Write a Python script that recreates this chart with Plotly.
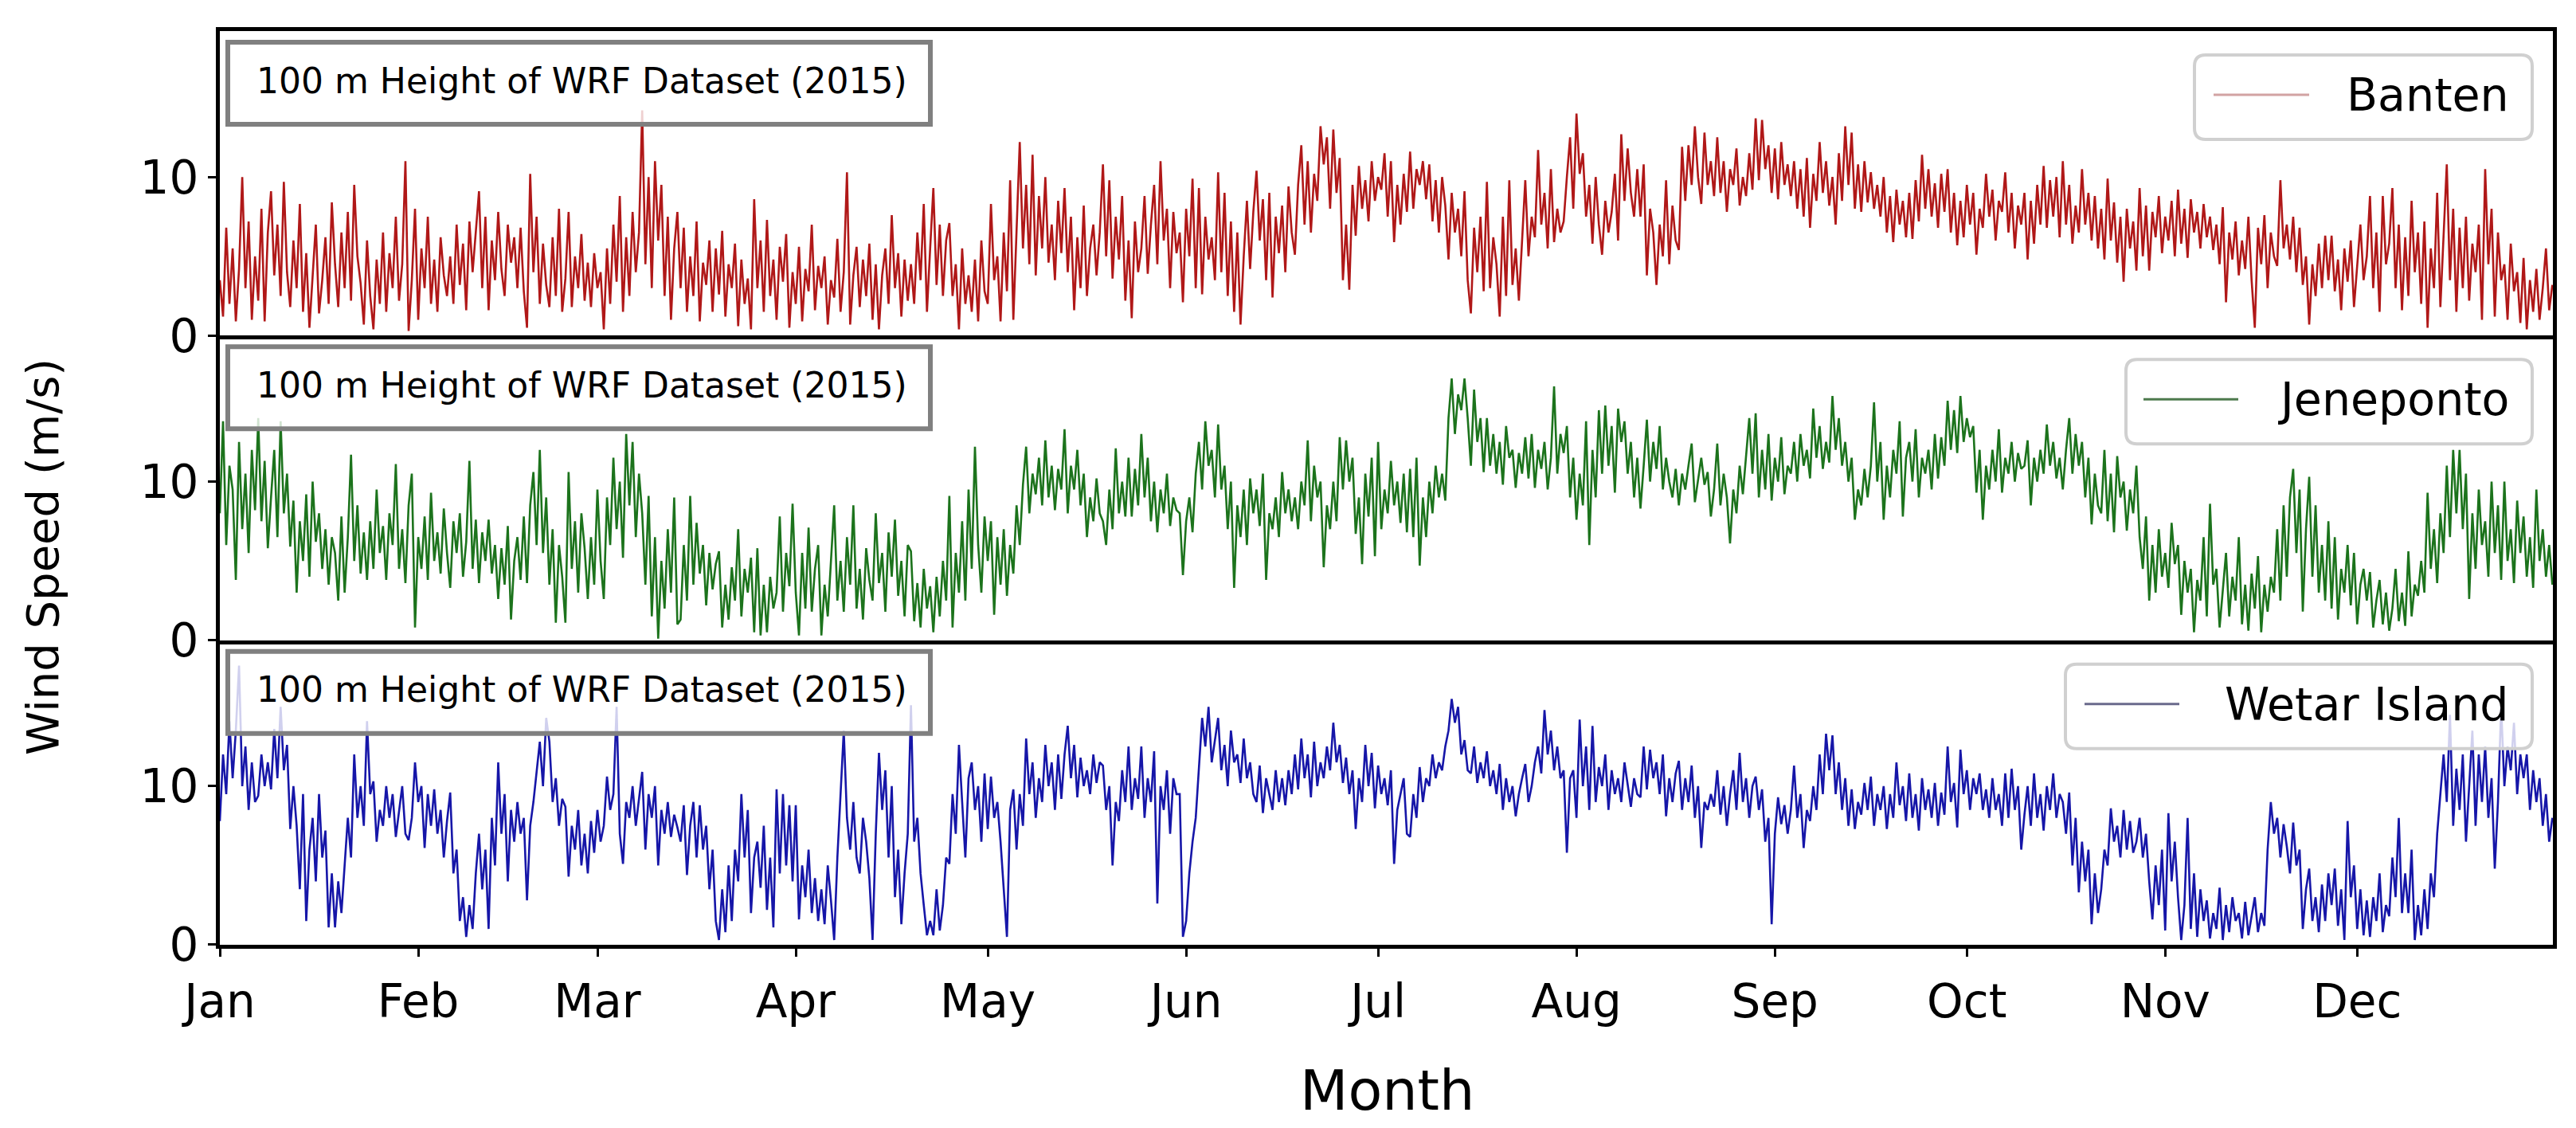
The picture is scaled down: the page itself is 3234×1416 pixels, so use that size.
import pandas as pd
import plotly.graph_objects as go
from plotly.subplots import make_subplots

# ---------------- data (12-hourly samples, m/s) ----------------
banten = [
    3.5, 1.2, 6.8, 2.0, 5.5, 0.9, 4.2, 10.0, 3.0, 7.2, 1.0, 5.0,
    2.2, 8.0, 0.9, 6.5, 9.1, 3.8, 7.0, 2.5, 9.7, 4.0, 1.8, 6.0,
    3.0, 8.3, 1.5, 5.2, 0.5, 4.0, 7.0, 1.4, 3.5, 6.2, 2.0, 8.4,
    4.5, 1.8, 6.5, 3.0, 7.8, 2.2, 9.5, 5.0, 3.3, 0.7, 6.0, 2.5,
    0.4, 4.8, 2.0, 6.5, 1.5, 5.2, 3.0, 7.5, 2.2, 4.5, 11.0, 0.3,
    3.5, 8.0, 1.0, 5.5, 3.0, 7.5, 2.0, 4.8, 1.5, 6.2, 3.8, 2.5,
    5.0, 2.0, 7.0, 3.2, 5.8, 1.6, 7.2, 4.0, 6.5, 9.1, 3.0, 7.5,
    1.6, 6.0, 3.5, 7.8, 4.2, 2.5, 7.0, 4.6, 6.2, 3.0, 6.8, 2.8,
    0.5, 10.2, 4.0, 7.5, 2.0, 5.8, 3.2, 1.8, 6.2, 2.5, 8.0, 1.5,
    3.6, 7.8, 1.8, 5.0, 3.0, 6.4, 2.2, 4.6, 1.8, 5.2, 3.0, 4.0,
    0.4, 5.5, 2.0, 7.0, 3.4, 8.8, 1.5, 6.2, 2.5, 7.8, 4.0, 6.5,
    14.2, 4.5, 10.0, 3.0, 11.0, 6.0, 9.5, 2.5, 7.5, 1.0, 5.5, 7.8,
    3.0, 6.8, 1.5, 5.0, 2.5, 7.2, 0.9, 4.6, 3.2, 6.0, 1.5, 5.5,
    2.6, 6.6, 1.2, 4.5, 3.0, 5.8, 0.6, 4.8, 2.0, 3.6, 0.4, 8.6,
    3.0, 6.0, 1.5, 7.3, 2.5, 4.8, 1.0, 5.6, 3.4, 6.4, 0.5, 4.0,
    2.0, 5.6, 0.9, 4.2, 2.8, 7.0, 1.6, 4.4, 3.0, 5.0, 0.7, 3.5,
    2.4, 6.1, 1.5, 4.0, 10.3, 0.7, 3.8, 5.6, 1.8, 4.8, 2.5, 5.8,
    1.0, 4.5, 0.4, 3.8, 5.5, 2.0, 7.6, 3.0, 5.2, 1.2, 4.8, 2.2,
    4.5, 2.0, 6.5, 3.5, 8.3, 1.5, 5.5, 9.3, 3.2, 7.0, 2.5, 6.0,
    7.1, 2.5, 4.5, 0.4, 5.5, 2.0, 3.8, 1.5, 4.8, 0.9, 6.0, 2.8,
    2.0, 8.3, 3.5, 5.0, 0.9, 6.5, 2.8, 9.8, 1.0, 7.0, 12.2, 5.5,
    9.5, 4.5, 11.4, 3.8, 8.8, 5.5, 10.0, 4.6, 7.0, 3.5, 8.5, 5.2,
    9.3, 4.0, 7.5, 1.6, 6.2, 3.0, 8.2, 2.5, 5.5, 7.0, 3.8, 6.5,
    10.8, 5.0, 9.8, 3.6, 7.5, 4.8, 8.8, 2.2, 6.0, 1.1, 7.2, 4.0,
    5.5, 8.8, 3.9, 7.0, 9.5, 4.5, 11.0, 6.0, 8.0, 3.0, 7.8, 5.2,
    6.5, 2.1, 8.0, 5.0, 9.9, 3.0, 9.3, 2.6, 7.5, 4.8, 6.2, 3.5,
    10.3, 4.0, 9.0, 2.5, 7.2, 1.5, 6.5, 0.7, 5.0, 8.5, 4.2, 7.8,
    10.4, 6.0, 8.6, 3.5, 9.0, 2.4, 7.5, 5.2, 8.2, 4.0, 9.4, 6.5,
    5.1, 9.5, 12.0, 7.0, 11.0, 6.5, 10.2, 8.5, 13.2, 10.8, 12.5, 8.0,
    13.0, 9.0, 11.2, 3.5, 7.0, 2.9, 9.5, 6.3, 10.7, 8.0, 9.8, 7.2,
    11.0, 8.5, 10.0, 9.2, 11.5, 7.5, 11.0, 5.9, 9.5, 7.0, 10.2, 7.8,
    11.6, 8.0, 10.5, 9.5, 11.0, 8.6, 10.8, 7.2, 9.8, 6.5, 10.0, 8.2,
    4.8, 9.0, 6.5, 8.0, 5.0, 9.1, 3.5, 1.4, 6.8, 4.0, 7.5, 2.8,
    9.7, 3.0, 6.2, 4.5, 1.2, 7.5, 2.5, 9.8, 3.2, 5.5, 2.2, 6.0,
    9.8, 5.0, 7.5, 6.2, 11.7, 7.0, 9.0, 5.5, 10.5, 5.9, 8.0, 6.5,
    7.2, 10.0, 12.5, 8.0, 14.0, 10.2, 11.5, 7.5, 9.5, 5.8, 10.0, 7.0,
    5.1, 8.5, 6.5, 7.8, 10.2, 6.0, 12.7, 8.5, 11.8, 9.0, 7.5, 10.5,
    7.5, 10.8, 3.8, 8.0, 6.5, 3.2, 7.0, 5.0, 9.8, 4.5, 8.2, 6.0,
    5.4, 11.9, 8.5, 12.0, 9.5, 13.2, 10.0, 8.3, 12.8, 9.5, 11.0, 8.8,
    12.5, 9.0, 11.0, 7.8, 10.5, 9.5, 11.8, 8.2, 10.0, 8.8, 11.5, 9.2,
    13.7, 9.8, 13.6, 10.5, 12.0, 9.0, 11.8, 8.6, 12.2, 9.5, 10.8, 8.8,
    11.0, 8.0, 10.5, 7.5, 11.2, 6.8, 10.2, 8.5, 12.2, 9.0, 11.0, 8.2,
    10.0, 7.0, 11.5, 8.5, 13.2, 9.5, 12.8, 8.0, 10.8, 7.8, 11.0, 8.4,
    10.3, 8.0, 9.5, 7.5, 10.0, 6.5, 8.8, 5.9, 9.2, 7.0, 8.5, 6.2,
    9.0, 6.1, 9.8, 7.2, 11.4, 8.0, 10.5, 7.5, 9.6, 6.8, 10.2, 7.8,
    10.5, 6.5, 9.0, 5.7, 8.5, 6.2, 9.5, 7.0, 9.0, 5.1, 8.0, 6.8,
    10.2, 7.5, 9.2, 6.0, 8.5, 7.8, 10.3, 6.5, 9.0, 5.5, 8.2, 7.0,
    9.0, 4.8, 8.5, 5.8, 9.5, 7.0, 10.7, 6.8, 9.8, 7.5, 10.0, 6.2,
    11.0, 7.0, 9.5, 5.8, 8.2, 6.5, 10.5, 7.0, 9.0, 6.0, 8.8, 5.5,
    8.0, 4.8, 9.9, 6.0, 8.4, 4.6, 7.5, 3.4, 8.0, 5.5, 7.2, 4.1,
    9.3, 5.0, 8.2, 4.1, 7.8, 6.2, 8.8, 5.2, 7.5, 6.0, 8.5, 5.0,
    9.2, 5.8, 8.0, 4.9, 8.6, 6.5, 7.8, 5.5, 8.3, 6.2, 7.5, 5.4,
    7.0, 4.5, 8.1, 2.1, 6.5, 4.8, 7.2, 3.8, 6.0, 4.2, 7.5, 3.5,
    0.5, 6.8, 4.5, 7.6, 3.0, 6.5, 5.0, 4.4, 9.8, 5.5, 7.0, 4.8,
    7.5, 4.0, 6.8, 3.2, 5.0, 0.7, 4.5, 2.5, 5.8, 3.0, 6.3, 3.5,
    6.3, 2.8, 4.8, 1.6, 5.5, 3.4, 6.0, 1.8, 4.2, 7.0, 3.5, 5.0,
    8.8, 3.0, 6.5, 1.5, 8.8, 4.5, 5.8, 9.3, 3.0, 7.0, 1.6, 6.2,
    2.5, 8.5, 4.0, 6.5, 2.0, 7.2, 0.5, 5.5, 3.0, 9.0, 1.8, 6.0,
    10.8, 3.5, 8.0, 1.5, 6.8, 3.0, 7.5, 2.2, 5.8, 4.0, 7.0, 1.0,
    10.5, 4.5, 8.0, 1.2, 6.5, 3.5, 4.5, 1.0, 5.8, 2.8, 4.0, 0.8,
    4.9, 0.4, 3.5, 1.5, 4.2, 1.0, 3.0, 5.5, 1.6, 3.2,
]

jeneponto = [
    8.0, 13.8, 6.0, 11.0, 9.5, 3.8, 12.5, 7.0, 10.5, 5.5, 12.0, 8.2,
    14.0, 7.5, 11.3, 5.8, 9.0, 12.0, 6.5, 13.8, 8.0, 10.5, 5.9, 8.8,
    3.0, 7.5, 5.0, 9.2, 4.0, 10.0, 6.2, 8.0, 4.5, 7.0, 3.5, 6.5,
    5.5, 2.5, 7.8, 3.0, 6.5, 11.7, 5.0, 8.5, 4.2, 6.8, 3.8, 7.5,
    4.5, 9.5, 5.5, 7.2, 3.8, 8.0, 6.0, 11.1, 4.5, 7.0, 3.6, 8.5,
    10.5, 0.8, 6.5, 4.5, 7.8, 3.8, 9.3, 5.0, 6.8, 4.2, 8.3, 5.5,
    3.3, 7.5, 5.5, 8.0, 4.0, 6.2, 11.3, 4.5, 7.6, 3.6, 6.8, 5.0,
    7.6, 4.2, 6.0, 2.6, 5.8, 3.5, 7.2, 1.3, 5.0, 6.5, 3.8, 7.8,
    3.6, 8.5, 10.6, 6.0, 12.0, 5.5, 9.0, 3.5, 7.0, 1.1, 6.0, 4.0,
    1.1, 10.6, 4.5, 7.5, 3.0, 8.0, 5.8, 2.6, 6.5, 3.5, 9.5, 5.0,
    2.6, 9.0, 6.0, 11.5, 7.0, 10.0, 5.2, 13.0, 8.5, 12.5, 6.5, 10.5,
    8.0, 3.5, 9.1, 1.5, 6.5, 0.1, 5.0, 2.0, 7.0, 3.0, 9.0, 1.0,
    1.3, 6.0, 2.5, 9.1, 3.5, 7.4, 4.2, 6.0, 2.2, 5.5, 3.2, 4.8,
    5.6, 0.8, 3.5, 1.3, 4.6, 2.5, 7.0, 1.5, 4.5, 3.0, 5.2, 0.5,
    5.8, 0.3, 3.5, 0.5, 4.0, 2.0, 3.0, 7.8, 1.8, 5.5, 3.4, 8.6,
    3.0, 0.3, 5.5, 2.0, 7.1, 1.8, 4.5, 6.0, 0.3, 3.5, 1.5, 4.8,
    8.5, 2.5, 5.0, 1.8, 6.5, 3.5, 8.5, 2.0, 4.5, 1.3, 5.8, 3.8,
    2.5, 8.0, 3.6, 5.5, 1.8, 6.8, 4.0, 7.6, 2.8, 5.0, 1.5, 6.0,
    5.6, 1.2, 3.6, 0.8, 4.5, 2.0, 3.4, 0.5, 4.0, 1.5, 5.0, 2.5,
    9.1, 0.8, 5.5, 3.0, 7.5, 2.5, 9.5, 4.5, 12.2, 6.0, 3.0, 7.8,
    5.0, 7.5, 1.6, 6.5, 3.5, 7.0, 2.8, 6.0, 4.2, 8.5, 6.0, 9.8,
    12.2, 8.0, 10.5, 9.2, 11.5, 8.5, 12.6, 9.0, 11.0, 8.2, 10.8, 9.5,
    13.3, 8.0, 11.0, 9.5, 12.0, 8.5, 10.5, 6.5, 9.0, 7.5, 10.2, 8.0,
    7.5, 6.0, 9.5, 7.0, 12.1, 8.0, 10.0, 7.8, 11.5, 7.8, 10.8, 8.5,
    13.0, 9.0, 11.5, 7.5, 10.0, 6.8, 9.5, 8.0, 10.5, 7.2, 9.0, 8.2,
    8.0, 4.1, 7.5, 9.0, 6.8, 10.5, 12.5, 9.5, 13.8, 11.0, 12.0, 9.0,
    13.6, 9.5, 11.0, 7.0, 10.0, 3.3, 8.5, 6.5, 9.5, 6.0, 10.2, 8.0,
    9.5, 7.2, 10.5, 3.8, 8.0, 7.0, 9.0, 6.5, 10.6, 8.0, 9.5, 7.5,
    9.0, 7.0, 10.0, 8.5, 12.6, 7.5, 11.0, 9.0, 10.0, 4.6, 8.5, 7.0,
    10.0, 7.5, 12.8, 9.5, 12.6, 10.0, 11.5, 6.7, 9.0, 4.8, 10.5, 7.8,
    11.5, 5.3, 12.5, 7.0, 9.5, 8.0, 11.3, 8.5, 10.0, 7.4, 10.5, 6.8,
    10.8, 6.5, 11.5, 4.7, 9.0, 6.5, 10.0, 8.0, 11.0, 9.0, 10.5, 8.8,
    14.0, 16.5, 13.0, 15.5, 14.5, 16.5, 14.0, 11.0, 15.8, 12.5, 14.0, 10.6,
    14.0, 11.0, 13.0, 10.5, 12.5, 9.8, 13.5, 11.5, 12.0, 9.6, 11.8, 10.5,
    12.8, 10.2, 13.0, 9.6, 12.0, 10.8, 12.5, 9.5, 11.5, 16.0, 10.5, 13.0,
    11.8, 13.5, 9.0, 11.5, 7.6, 10.5, 8.5, 13.8, 6.0, 12.0, 9.0, 14.5,
    10.5, 14.8, 11.0, 13.5, 9.3, 14.6, 12.5, 13.8, 10.5, 12.5, 9.0, 11.5,
    8.3, 11.0, 13.9, 10.0, 12.5, 10.8, 13.5, 9.5, 11.5, 10.0, 9.0, 10.8,
    8.5, 10.5, 9.5, 11.0, 12.4, 8.7, 10.0, 11.5, 9.8, 10.6, 7.8, 9.5,
    12.4, 8.5, 10.5, 9.0, 6.1, 9.5, 8.0, 11.0, 9.2, 11.5, 14.0, 10.5,
    14.3, 9.0, 12.0, 9.5, 13.0, 8.8, 11.5, 10.0, 12.8, 9.2, 11.0, 10.5,
    12.5, 10.0, 13.0, 11.0, 12.0, 10.2, 14.6, 11.5, 13.5, 10.8, 12.5, 11.2,
    15.4, 12.0, 14.0, 11.0, 12.5, 10.0, 11.5, 7.6, 9.5, 8.5, 10.8, 9.0,
    11.0, 15.0, 10.0, 12.5, 7.6, 11.0, 9.0, 12.0, 10.5, 13.8, 7.8, 11.5,
    12.5, 10.0, 13.3, 9.0, 11.5, 10.5, 12.0, 9.5, 13.0, 10.2, 12.8, 11.0,
    15.1, 12.0, 14.5, 11.8, 15.4, 12.5, 14.0, 12.8, 13.5, 9.3, 12.0, 7.6,
    11.0, 9.5, 12.0, 10.0, 13.3, 9.3, 11.5, 10.5, 12.5, 10.0, 11.8, 10.8,
    11.0, 12.6, 8.5, 11.5, 10.0, 12.0, 10.5, 13.6, 11.0, 12.5, 10.2, 11.5,
    9.5, 12.0, 14.0, 10.5, 13.0, 11.0, 12.5, 9.0, 11.5, 7.3, 10.5, 8.5,
    8.0, 12.0, 7.5, 10.5, 6.8, 11.6, 9.0, 10.0, 6.9, 9.5, 8.0, 11.0,
    6.5, 4.5, 7.8, 2.5, 6.0, 3.0, 7.0, 4.0, 5.5, 3.3, 7.4, 4.8,
    6.0, 1.6, 5.0, 3.0, 4.5, 0.5, 3.8, 2.5, 6.5, 1.5, 8.6, 3.5,
    4.5, 0.8, 3.0, 5.5, 1.5, 4.0, 2.5, 6.5, 1.0, 3.5, 0.6, 4.2,
    2.0, 5.3, 0.5, 3.5, 1.8, 4.0, 3.0, 7.0, 2.5, 8.5, 4.0, 9.0,
    10.8, 5.5, 9.5, 1.8, 7.0, 10.3, 4.0, 8.5, 3.0, 6.0, 2.5, 7.5,
    2.0, 6.5, 1.3, 4.5, 3.0, 6.0, 2.2, 5.5, 1.0, 3.5, 4.5, 2.5,
    4.3, 0.8, 2.5, 3.8, 1.0, 3.0, 0.6, 2.0, 4.5, 1.2, 3.0, 0.9,
    5.6, 1.5, 3.5, 2.8, 5.0, 3.0, 9.3, 4.5, 7.0, 3.6, 8.0, 5.5,
    11.0, 6.5, 12.0, 8.0, 12.0, 7.0, 10.5, 2.6, 8.0, 4.5, 9.5, 6.0,
    7.5, 4.0, 10.0, 5.5, 8.5, 3.8, 10.0, 5.0, 7.0, 3.6, 8.8, 5.5,
    7.8, 4.0, 6.5, 3.3, 9.5, 5.0, 7.0, 4.0, 6.0, 3.5,
]

wetar = [
    7.8, 12.0, 9.5, 14.1, 10.5, 13.5, 17.6, 10.0, 12.5, 8.5, 11.5, 9.0,
    9.4, 12.0, 10.0, 11.5, 9.8, 13.6, 10.5, 15.0, 11.0, 12.6, 7.3, 10.0,
    7.5, 3.5, 9.5, 1.5, 6.0, 8.0, 4.0, 9.5, 5.5, 7.2, 1.1, 4.5,
    1.1, 4.0, 2.0, 5.0, 8.0, 5.5, 12.0, 8.0, 10.0, 7.5, 14.1, 9.5,
    10.3, 6.5, 8.5, 7.5, 10.0, 8.0, 9.5, 6.8, 8.5, 10.0, 7.0, 6.6,
    8.0, 11.5, 9.0, 10.0, 6.1, 9.5, 7.5, 9.8, 7.0, 8.5, 5.5, 7.8,
    9.6, 4.5, 6.0, 1.5, 3.0, 0.5, 2.5, 1.0, 4.5, 7.0, 3.5, 6.0,
    1.0, 8.0, 5.0, 11.5, 7.0, 9.5, 4.0, 8.5, 6.5, 9.0, 7.0, 8.0,
    2.8, 7.5, 9.0, 11.0, 12.8, 10.0, 14.3, 12.8, 9.0, 10.5, 7.5, 9.2,
    8.7, 4.3, 7.5, 6.0, 8.5, 5.0, 7.0, 4.5, 7.8, 5.8, 8.5, 6.5,
    7.5, 10.6, 8.5, 9.5, 15.0, 7.0, 5.1, 9.0, 8.0, 10.0, 7.5, 9.2,
    10.9, 6.0, 9.5, 8.0, 10.0, 5.0, 8.5, 7.0, 9.0, 6.8, 8.2, 7.4,
    6.5, 8.8, 4.4, 7.5, 9.0, 5.5, 8.8, 6.0, 7.5, 3.5, 6.0, 1.5,
    0.3, 3.5, 0.8, 5.0, 1.5, 6.0, 4.0, 9.5, 5.5, 8.5, 2.0, 5.5,
    6.5, 3.6, 7.5, 2.2, 5.5, 1.1, 9.8, 4.5, 9.5, 5.0, 8.8, 4.0,
    8.8, 1.6, 5.0, 3.0, 6.0, 2.0, 4.2, 1.5, 3.5, 1.3, 5.0, 2.8,
    0.3, 5.5, 9.5, 13.5, 8.0, 6.0, 9.0, 5.5, 4.5, 8.0, 6.5, 4.2,
    0.3, 7.0, 12.1, 8.5, 11.0, 5.5, 10.0, 3.0, 6.0, 1.3, 4.5, 7.0,
    15.1, 6.5, 8.0, 4.5, 2.5, 0.6, 1.5, 0.6, 3.5, 0.9, 2.5, 5.5,
    5.1, 9.5, 7.0, 12.6, 9.0, 5.5, 10.5, 11.5, 8.5, 10.0, 6.5, 10.8,
    7.3, 10.6, 8.0, 9.0, 6.5, 3.5, 0.5, 8.5, 9.8, 6.0, 9.5, 7.5,
    13.0, 9.5, 11.5, 8.0, 10.5, 9.0, 12.6, 10.0, 11.5, 8.5, 12.0, 9.2,
    12.0, 13.8, 10.5, 12.6, 9.3, 11.8, 10.0, 11.0, 9.5, 12.0, 10.2, 11.5,
    11.3, 8.5, 10.0, 5.0, 9.0, 7.8, 11.0, 9.0, 12.5, 8.5, 10.5, 9.2,
    12.5, 8.0, 10.5, 9.0, 12.2, 2.6, 10.0, 8.5, 11.0, 7.0, 10.5, 9.5,
    9.5, 0.5, 1.5, 4.5, 6.5, 8.0, 11.0, 14.3, 12.5, 15.0, 11.5, 13.0,
    14.3, 11.0, 12.6, 10.0, 13.5, 11.5, 12.0, 10.2, 13.0, 10.5, 11.5, 9.5,
    9.0, 11.3, 8.3, 10.5, 9.5, 8.5, 11.0, 9.0, 10.5, 8.8, 11.0, 9.5,
    12.0, 9.8, 13.0, 10.5, 12.0, 9.3, 12.8, 10.0, 11.5, 10.5, 12.5, 11.0,
    14.0, 11.5, 12.6, 10.2, 11.8, 9.5, 11.0, 7.3, 10.5, 9.0, 12.6, 10.0,
    12.1, 8.6, 11.3, 9.5, 10.5, 8.8, 11.0, 5.1, 8.5, 9.5, 10.5, 7.0,
    6.8, 9.5, 8.0, 11.2, 9.0, 10.5, 10.0, 12.0, 10.5, 11.5, 11.0, 12.5,
    13.5, 15.5, 14.0, 15.0, 12.0, 12.9, 11.0, 10.8, 12.5, 10.2, 11.5, 10.5,
    12.2, 10.0, 11.0, 9.5, 11.4, 8.5, 10.5, 9.0, 10.0, 8.1, 9.5, 10.5,
    11.4, 9.0, 10.0, 11.5, 12.5, 10.8, 14.8, 12.0, 13.5, 11.0, 12.5, 10.5,
    11.0, 5.8, 10.5, 11.0, 8.0, 14.2, 10.0, 12.5, 8.5, 13.8, 9.0, 11.2,
    10.0, 12.0, 8.5, 11.0, 9.5, 10.5, 9.0, 11.5, 10.0, 8.7, 10.5, 9.5,
    9.3, 12.5, 9.8, 12.3, 10.5, 11.5, 9.5, 12.0, 8.1, 10.5, 9.0, 10.8,
    11.6, 8.5, 10.5, 9.0, 11.3, 8.0, 10.0, 6.1, 9.0, 8.5, 9.5, 8.7,
    11.0, 8.2, 10.0, 7.5, 9.5, 11.0, 8.5, 12.1, 9.0, 10.5, 8.0, 10.0,
    10.6, 8.5, 9.8, 6.5, 8.0, 1.3, 7.0, 9.3, 7.6, 8.8, 7.0, 8.5,
    11.3, 8.0, 9.5, 6.1, 8.5, 7.8, 10.0, 8.5, 12.0, 9.5, 13.3, 11.0,
    13.2, 9.5, 11.5, 8.5, 10.5, 7.5, 9.8, 7.3, 9.0, 8.2, 10.2, 8.5,
    10.6, 7.5, 9.5, 8.5, 10.0, 7.3, 9.5, 8.0, 11.5, 8.8, 10.0, 7.8,
    10.8, 8.0, 9.5, 7.2, 10.5, 8.5, 9.8, 8.0, 10.2, 7.5, 9.6, 8.2,
    12.5, 9.0, 10.2, 7.4, 12.3, 9.5, 11.0, 8.5, 10.5, 9.5, 10.8, 8.5,
    9.8, 8.0, 10.5, 8.5, 9.5, 7.5, 10.8, 8.0, 11.1, 8.5, 10.0, 6.0,
    8.2, 10.0, 7.5, 10.8, 8.0, 9.5, 7.2, 10.0, 8.5, 10.8, 8.0, 9.5,
    9.0, 7.0, 9.6, 5.0, 8.0, 3.3, 6.5, 4.0, 6.0, 1.3, 4.5, 2.0,
    3.5, 6.0, 5.0, 8.6, 6.5, 7.5, 5.5, 8.5, 6.0, 7.8, 5.8, 6.5,
    8.0, 5.5, 7.0, 4.0, 1.6, 5.0, 2.5, 6.0, 0.9, 8.3, 4.0, 6.5,
    3.0, 0.3, 2.5, 8.0, 1.0, 4.5, 0.5, 3.5, 1.5, 2.8, 0.4, 2.0,
    1.0, 3.6, 0.3, 2.5, 0.8, 3.0, 1.5, 2.0, 0.4, 2.7, 0.6, 1.8,
    3.0, 0.8, 2.0, 1.2, 6.0, 9.0, 7.0, 8.0, 5.5, 7.6, 6.2, 4.5,
    7.7, 5.0, 6.0, 1.0, 3.5, 4.8, 1.5, 3.0, 0.8, 3.8, 1.5, 4.5,
    2.5, 4.8, 1.2, 3.5, 0.3, 7.8, 3.0, 5.0, 1.0, 3.5, 0.6, 2.8,
    0.5, 3.0, 1.5, 4.5, 0.8, 2.5, 1.8, 5.5, 3.0, 8.0, 2.0, 4.5,
    2.0, 6.0, 0.3, 2.5, 0.6, 3.5, 1.0, 4.5, 3.0, 7.0, 9.5, 12.0,
    9.0, 14.5, 7.5, 11.1, 8.5, 12.0, 6.5, 10.0, 13.5, 7.5, 12.0, 9.0,
    12.5, 8.0, 10.5, 4.8, 9.0, 15.0, 10.0, 12.5, 11.0, 14.0, 9.5, 12.0,
    10.5, 12.0, 8.5, 11.0, 9.0, 10.5, 7.5, 9.5, 6.5, 8.0,
]

series_names = ["Banten", "Jeneponto", "Wetar Island"]
series_values = [banten, jeneponto, wetar]
month_labels = ["Jan", "Feb", "Mar", "Apr", "May", "Jun",
                "Jul", "Aug", "Sep", "Oct", "Nov", "Dec"]
box_text = "100 m Height of WRF Dataset (2015)"

# ---------------- styling ----------------
line_colors = ["#b01818", "#1c731c", "#1616a8"]
legend_line_colors = ["#d2a3a3", "#4d7a4d", "#6a6a8c"]
FONT = "DejaVu Sans"

W, H = 3234, 1416
L, R, T, B = 268, 3197, 31, 1178
PW, PH = R - L, B - T


def px(x):
    return (x - L) / PW


def py(y):
    return (B - y) / PH


fig = make_subplots(rows=3, cols=1, shared_xaxes=True, vertical_spacing=0)

for i, (name, vals, col) in enumerate(zip(series_names, series_values, line_colors)):
    t = pd.date_range("2015-01-01", periods=len(vals), freq="12h")
    fig.add_trace(go.Scatter(x=t, y=vals, mode="lines", name=name,
                             line=dict(color=col, width=2.6), showlegend=False),
                  row=i + 1, col=1)

month_starts = pd.date_range("2015-01-01", periods=12, freq="MS")

fig.update_layout(width=W, height=H,
                  margin=dict(l=L, r=W - R, t=T, b=H - B),
                  plot_bgcolor="white", paper_bgcolor="white",
                  font=dict(family=FONT, color="black"))
fig.update_yaxes(range=[0, 19.2], tickvals=[0, 10], ticks="outside",
                 ticklen=10, tickwidth=3, tickcolor="black",
                 showline=True, mirror=True, linecolor="black", linewidth=5,
                 showgrid=False, zeroline=False,
                 tickfont=dict(size=58, family=FONT, color="black"))
fig.update_xaxes(range=["2015-01-01", "2015-12-31 14:00"],
                 tickvals=month_starts, ticktext=month_labels,
                 showline=True, linecolor="black", linewidth=5,
                 showgrid=False, zeroline=False)
# top panel draws both top and bottom frame lines; lower panels only their bottom line
fig.update_xaxes(mirror=True, row=1, col=1)
fig.update_xaxes(mirror=False, row=2, col=1)
fig.update_xaxes(mirror=False, row=3, col=1)
fig.update_xaxes(ticks="outside", ticklen=10, tickwidth=3, tickcolor="black",
                 showticklabels=True, ticklabelstandoff=6,
                 tickfont=dict(size=58, family=FONT, color="black"),
                 row=3, col=1)

shapes = []
annotations = []
panel_h = PH / 3.0
leg_boxes = [(2747, 3171), (2661, 3171), (2585, 3171)]
leg_lines = [(2771, 2891), (2683, 2802), (2609, 2728)]

for i in range(3):
    top = T + i * panel_h
    # annotation box
    bx0, bx1, by0, by1 = 278, 1160, top + 14, top + 117
    shapes.append(dict(type="rect", xref="paper", yref="paper",
                       x0=px(bx0), x1=px(bx1), y0=py(by1), y1=py(by0),
                       line=dict(color="#808080", width=6),
                       fillcolor="rgba(255,255,255,0.8)", layer="above"))
    annotations.append(dict(text=box_text, xref="paper", yref="paper",
                            x=px(312), y=py(top + 62), xanchor="left", yanchor="middle",
                            showarrow=False, font=dict(size=44, family=FONT, color="black")))
    # legend box (rounded)
    lx0, lx1 = leg_boxes[i]
    ly0, ly1 = top + 30, top + 136
    r = 14
    path = (f"M {px(lx0 + r)},{py(ly0)} L {px(lx1 - r)},{py(ly0)} "
            f"Q {px(lx1)},{py(ly0)} {px(lx1)},{py(ly0 + r)} "
            f"L {px(lx1)},{py(ly1 - r)} Q {px(lx1)},{py(ly1)} {px(lx1 - r)},{py(ly1)} "
            f"L {px(lx0 + r)},{py(ly1)} Q {px(lx0)},{py(ly1)} {px(lx0)},{py(ly1 - r)} "
            f"L {px(lx0)},{py(ly0 + r)} Q {px(lx0)},{py(ly0)} {px(lx0 + r)},{py(ly0)} Z")
    shapes.append(dict(type="path", xref="paper", yref="paper", path=path,
                       line=dict(color="#d0d0d0", width=4),
                       fillcolor="rgba(255,255,255,0.8)", layer="above"))
    sx0, sx1 = leg_lines[i]
    ymid = top + 80
    shapes.append(dict(type="line", xref="paper", yref="paper",
                       x0=px(sx0), x1=px(sx1), y0=py(ymid), y1=py(ymid),
                       line=dict(color=legend_line_colors[i], width=3), layer="above"))
    annotations.append(dict(text=series_names[i], xref="paper", yref="paper",
                            x=px(3144), y=py(ymid), xanchor="right", yanchor="middle",
                            showarrow=False, font=dict(size=57, family=FONT, color="black")))

annotations.append(dict(text="Wind Speed (m/s)", xref="paper", yref="paper",
                        x=px(45), y=py(691), xanchor="center", yanchor="middle",
                        textangle=-90, showarrow=False,
                        font=dict(size=56, family=FONT, color="black")))
annotations.append(dict(text="Month", xref="paper", yref="paper",
                        x=px(1733), y=py(1361), xanchor="center", yanchor="middle",
                        showarrow=False, font=dict(size=70, family=FONT, color="black")))

fig.update_layout(shapes=shapes, annotations=annotations)
fig.write_html("out.html")
print([len(v) for v in series_values])
